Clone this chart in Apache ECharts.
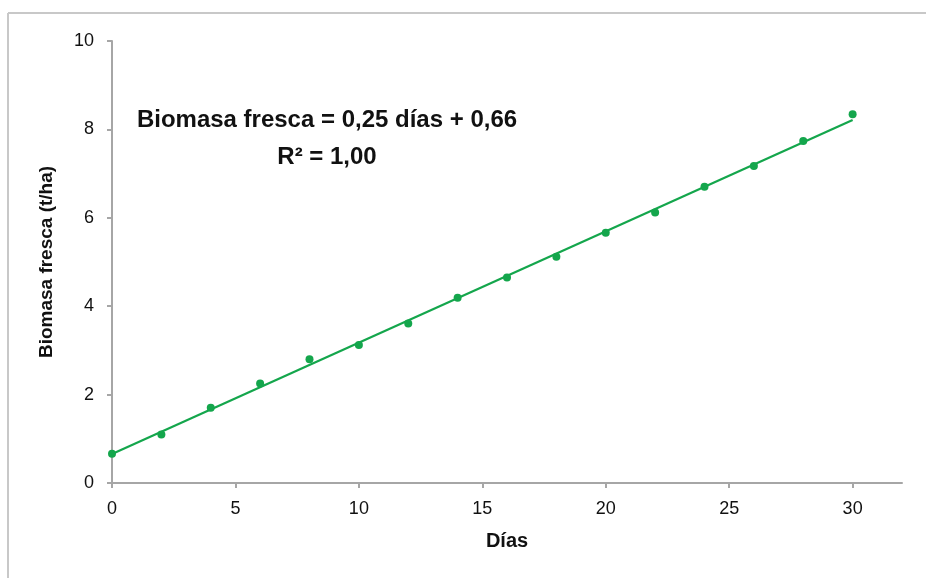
<!DOCTYPE html>
<html>
<head>
<meta charset="utf-8">
<script src="https://cdn.jsdelivr.net/npm/echarts@6/dist/echarts.min.js"></script>
<style>
html,body{margin:0;padding:0;background:#fff;}
#chart{width:926px;height:578px;}
</style>
</head>
<body>
<div id="chart"></div>
<script>
// Data
const dias = [0, 2, 4, 6, 8, 10, 12, 14, 16, 18, 20, 22, 24, 26, 28, 30];
const biomasa = [0.66, 1.10, 1.70, 2.25, 2.80, 3.12, 3.61, 4.19, 4.65, 5.12, 5.66, 6.12, 6.70, 7.17, 7.74, 8.34];
const xTicks = [0, 5, 10, 15, 20, 25, 30];
const yTicks = [0, 2, 4, 6, 8, 10];
const equationLines = ['Biomasa fresca = 0,25 días + 0,66', 'R² = 1,00'];
const xTitle = 'Días';
const yTitle = 'Biomasa fresca (t/ha)';

// Least-squares trend line from the data
const n = dias.length;
const mx = dias.reduce((a, b) => a + b, 0) / n;
const my = biomasa.reduce((a, b) => a + b, 0) / n;
let sxy = 0, sxx = 0;
for (let i = 0; i < n; i++) { sxy += (dias[i] - mx) * (biomasa[i] - my); sxx += (dias[i] - mx) ** 2; }
const slope = sxy / sxx, intercept = my - slope * mx;
const xMin = dias[0], xMax = dias[n - 1];
const trend = [[xMin, intercept + slope * xMin], [xMax, intercept + slope * xMax]];

const FONT = '"Liberation Sans Narrow", "Arial Narrow", "Liberation Sans", Arial, sans-serif';
const GREEN = '#14a64c';
const AXIS = '#a6a6a6';

const chart = echarts.init(document.getElementById('chart'), null, {renderer: 'canvas'});
chart.setOption({
  animation: false,
  backgroundColor: '#fff',
  grid: {left: 112, right: 24, top: 41, bottom: 95, containLabel: false},
  xAxis: {
    type: 'value', min: 0, max: 32,
    name: xTitle, nameLocation: 'middle', nameGap: 48,
    nameTextStyle: {fontFamily: FONT, fontSize: 20, fontWeight: 'bold', color: '#111'},
    axisLine: {lineStyle: {color: AXIS, width: 2}},
    axisTick: {show: true, length: 5, lineStyle: {color: AXIS, width: 2}, customValues: xTicks},
    axisLabel: {customValues: xTicks, margin: 17, fontFamily: FONT, fontSize: 18, color: '#111'},
    splitLine: {show: false}
  },
  yAxis: {
    type: 'value', min: 0, max: 10, interval: 2,
    name: yTitle, nameLocation: 'middle', nameGap: 56, nameRotate: 90,
    nameTextStyle: {fontFamily: FONT, fontSize: 19, fontWeight: 'bold', color: '#111'},
    axisLine: {show: true, lineStyle: {color: AXIS, width: 2}},
    axisTick: {show: true, length: 5, lineStyle: {color: AXIS, width: 2}},
    axisLabel: {margin: 18, fontFamily: FONT, fontSize: 18, color: '#111'},
    splitLine: {show: false}
  },
  series: [
    {
      type: 'line', data: trend, symbol: 'none', silent: true,
      lineStyle: {color: GREEN, width: 2.2}, z: 2
    },
    {
      type: 'scatter', data: dias.map((d, i) => [d, biomasa[i]]),
      symbol: 'circle', symbolSize: 8, itemStyle: {color: GREEN, opacity: 1}, z: 3
    }
  ],
  graphic: [
    {type: 'line', shape: {x1: 8, y1: 13, x2: 926, y2: 13}, style: {stroke: '#c8c8c8', lineWidth: 2}},
    {type: 'line', shape: {x1: 8, y1: 13, x2: 8, y2: 578}, style: {stroke: '#c8c8c8', lineWidth: 2}},
    {type: 'text', x: 327, y: 120, style: {text: equationLines[0], fontFamily: FONT, fontSize: 24, fontWeight: 'bold', fill: '#111', align: 'center', verticalAlign: 'middle'}},
    {type: 'text', x: 327, y: 157, style: {text: equationLines[1], fontFamily: FONT, fontSize: 24, fontWeight: 'bold', fill: '#111', align: 'center', verticalAlign: 'middle'}}
  ]
});
</script>
</body>
</html>
